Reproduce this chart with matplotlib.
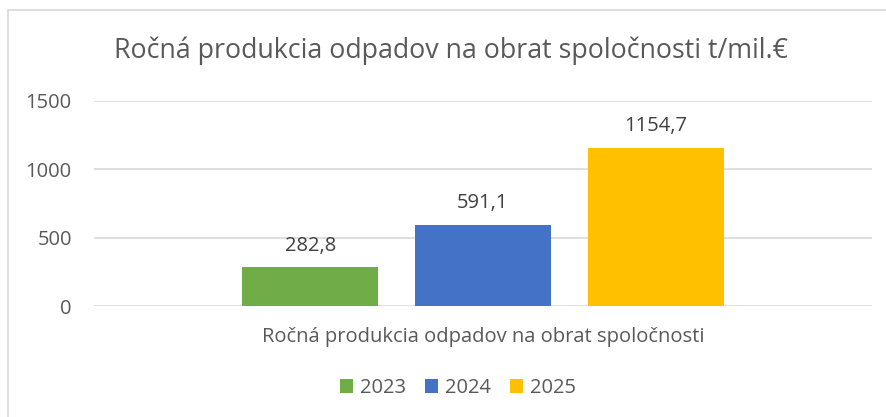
import matplotlib
matplotlib.use("Agg")
import matplotlib.pyplot as plt
from matplotlib.patches import Rectangle, Patch

plt.rcParams['font.family'] = ['Open Sans', 'DejaVu Sans']

title = "Ročná produkcia odpadov na obrat spoločnosti t/mil.€"
category = "Ročná produkcia odpadov na obrat spoločnosti"
years = ["2023", "2024", "2025"]
values = [282.8, 591.1, 1154.7]
value_labels = ["282,8", "591,1", "1154,7"]
colors = ["#70AD47", "#4472C4", "#FFC000"]
yticks = [0, 500, 1000, 1500]

W, H = 887, 417
fig = plt.figure(figsize=(W / 100, H / 100), dpi=100)
txt = "#595959"
fs = 14.5

# border
fig.patches.append(Rectangle((8 / W, 0 - 0.05), 1.2, (H - 10) / H + 0.05,
                             transform=fig.transFigure, fill=False,
                             edgecolor="#D9D9D9", linewidth=1.2))

ax = fig.add_axes([94 / W, 1 - 306 / H, (872 - 94) / W, (306 - 101) / H])
offsets = [-0.222, 0.0, 0.222]
width = 0.175
for off, v, c, lab in zip(offsets, values, colors, value_labels):
    ax.bar(off, v, width=width, color=c, zorder=3)
    ax.annotate(lab, (off, v), xytext=(0, 8.5), textcoords="offset points",
                ha="center", va="bottom", fontsize=fs, color="#404040")

ax.set_xlim(-0.5, 0.5)
ax.set_ylim(0, 1500)
ax.set_yticks(yticks)
ax.set_yticklabels([str(t) for t in yticks], fontsize=fs, color=txt)
ax.set_xticks([0])
ax.set_xticklabels([category], fontsize=fs, color=txt)
ax.tick_params(axis="y", length=0, pad=16)
ax.tick_params(axis="x", length=0, pad=15)
ax.grid(axis="y", color="#D9D9D9", linewidth=1.2, zorder=0)
for s in ax.spines.values():
    s.set_visible(False)

fig.text(451 / W, 1 - 51 / H, title, ha="center", va="center",
         fontsize=19.3, color=txt)

handles = [Patch(facecolor=c, edgecolor="none") for c in colors]
fig.legend(handles, years, loc="center", bbox_to_anchor=(458 / W, 1 - 388 / H),
           ncol=3, frameon=False, fontsize=fs, labelcolor=txt,
           handlelength=0.65, handleheight=0.65, handletextpad=0.35, columnspacing=0.95)

fig.savefig("out.png", dpi=100)
